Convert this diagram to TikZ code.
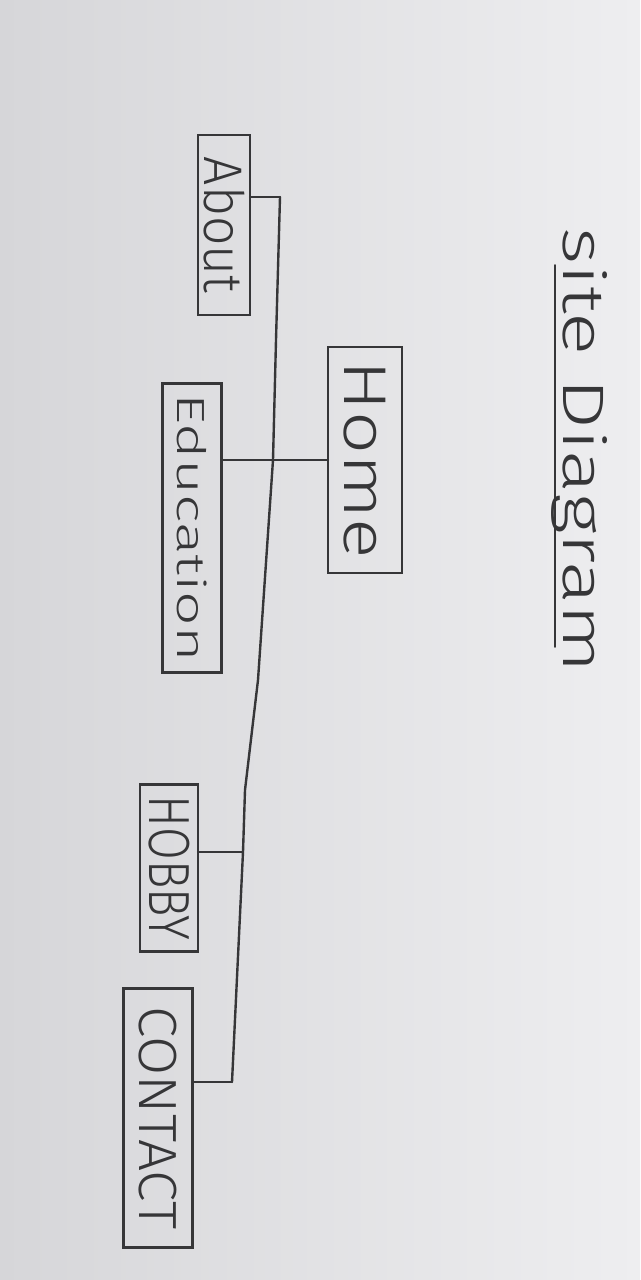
\documentclass[tikz,border=0pt]{standalone}
\usepackage{fontspec}
\usepackage{graphicx}
\newfontfamily\hand{Fira Sans Light}
\definecolor{ink}{HTML}{363638}
\definecolor{paperL}{HTML}{D6D6D9}
\definecolor{paperR}{HTML}{EEEEF0}
% rotated, stretched label: width, total height, text
\newcommand\hw[3]{\rotatebox{-90}{\resizebox*{#1}{#2}{\hand #3}}}

\begin{document}
\begin{tikzpicture}[x=0.05cm,y=-0.05cm,
  pen/.style={draw=ink, line width=3.4pt, line join=round, line cap=round},
  pagebox/.style={draw=ink, line width=3.4pt, inner sep=0pt, outer sep=0pt, text=ink},
]
\fill[left color=paperL,right color=paperR] (0,0) rectangle (640,1280);
\useasboundingbox (0,0) rectangle (640,1280);

% title and underline
\node[text=ink, inner sep=0pt] (title) at (580,450) {\hw{22.25cm}{2.8cm}{site Diagram}};
\coordinate (u1) at (555,265);
\coordinate (u2) at (555,647);
\draw[pen, line width=2.6pt] (u1) -- (u2);

% pages
\node[pagebox, minimum width=2.6cm,  minimum height=9cm]     (about)   at (224,225)  {\hw{6.8cm}{2.05cm}{About}};
\node[pagebox, minimum width=3.7cm,  minimum height=11.3cm]  (home)    at (365,460)  {\hw{9.9cm}{2.1cm}{Home}};
\node[pagebox, minimum width=2.95cm, minimum height=14.45cm] (edu)     at (192,528)  {\hw{13.4cm}{1.5cm}{Education}};
\node[pagebox, minimum width=2.9cm,  minimum height=8.35cm]  (hobby)   at (169,868)  {\hw{7.25cm}{2.05cm}{HOBBY}};
\node[pagebox, minimum width=3.45cm, minimum height=12.95cm] (contact) at (158,1118) {\hw{11.15cm}{1.9cm}{CONTACT}};

% trunk line
\coordinate (t0) at (280,197);
\coordinate (t1) at (276,340);
\coordinate (t2) at (273,460);
\coordinate (t3) at (258,680);
\coordinate (t4) at (245,790);
\coordinate (t5) at (243,852);
\coordinate (t6) at (232,1082);
\draw[pen] (t0) -- (t1) -- (t2) -- (t3) -- (t4) -- (t5) -- (t6);

% branches
\draw[pen] (about.east |- t0) -- (t0);
\draw[pen] (edu.east |- t2) -- (t2) -- (home.west |- t2);
\draw[pen] (hobby.east |- t5) -- (t5);
\draw[pen] (contact.east |- t6) -- (t6);
\end{tikzpicture}
\end{document}
